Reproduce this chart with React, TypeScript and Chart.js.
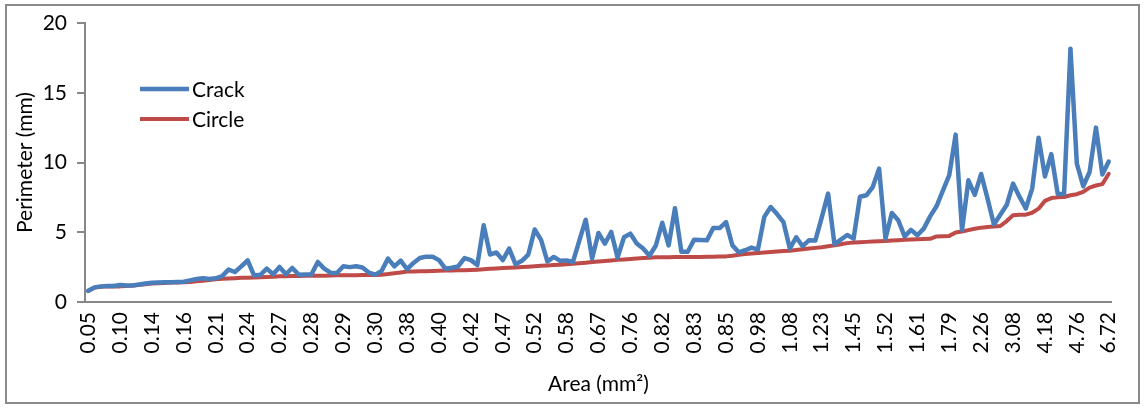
import { useEffect, useRef } from 'react';
import { Chart, registerables } from 'chart.js';

Chart.register(...registerables);

// Crack area in mm² (category axis); only every fifth one is labelled
const areas = [
  '0.05', '0.08', '0.09', '0.10', '0.10',
  '0.10', '0.11', '0.11', '0.12', '0.13',
  '0.14', '0.14', '0.15', '0.15', '0.16',
  '0.16', '0.16', '0.17', '0.19', '0.20',
  '0.21', '0.22', '0.23', '0.23', '0.24',
  '0.24', '0.25', '0.25', '0.26', '0.26',
  '0.27', '0.27', '0.27', '0.28', '0.28',
  '0.28', '0.28', '0.28', '0.29', '0.29',
  '0.29', '0.29', '0.29', '0.30', '0.30',
  '0.30', '0.31', '0.32', '0.34', '0.36',
  '0.38', '0.38', '0.38', '0.39', '0.39',
  '0.40', '0.40', '0.41', '0.41', '0.41',
  '0.42', '0.43', '0.44', '0.45', '0.46',
  '0.47', '0.48', '0.49', '0.50', '0.51',
  '0.52', '0.53', '0.55', '0.56', '0.57',
  '0.58', '0.60', '0.61', '0.63', '0.65',
  '0.67', '0.69', '0.71', '0.73', '0.74',
  '0.76', '0.77', '0.79', '0.80', '0.81',
  '0.82', '0.82', '0.82', '0.82', '0.83',
  '0.83', '0.83', '0.83', '0.84', '0.85',
  '0.85', '0.88', '0.91', '0.94', '0.96',
  '0.98', '1.00', '1.02', '1.04', '1.06',
  '1.08', '1.11', '1.14', '1.17', '1.20',
  '1.23', '1.27', '1.31', '1.36', '1.42',
  '1.45', '1.46', '1.48', '1.49', '1.51',
  '1.52', '1.54', '1.56', '1.58', '1.60',
  '1.61', '1.62', '1.63', '1.76', '1.77',
  '1.79', '1.97', '2.03', '2.11', '2.19',
  '2.26', '2.30', '2.34', '2.36', '2.68',
  '3.08', '3.11', '3.12', '3.26', '3.56',
  '4.18', '4.42', '4.48', '4.51', '4.66',
  '4.76', '4.97', '5.35', '5.55', '5.68',
  '6.72',
];

// Measured crack perimeter (mm)
const crack = [
  0.80, 1.05, 1.12, 1.15, 1.15,
  1.22, 1.18, 1.18, 1.25, 1.33,
  1.38, 1.40, 1.42, 1.42, 1.43,
  1.45, 1.55, 1.65, 1.70, 1.65,
  1.70, 1.85, 2.32, 2.15, 2.55,
  2.99, 1.90, 1.95, 2.39, 1.99,
  2.51, 1.99, 2.44, 1.96, 1.97,
  1.98, 2.87, 2.39, 2.10, 2.08,
  2.56, 2.50, 2.56, 2.47, 2.11,
  1.96, 2.22, 3.11, 2.55, 2.97,
  2.35, 2.80, 3.15, 3.25, 3.25,
  3.00, 2.39, 2.45, 2.55, 3.15,
  3.00, 2.65, 5.50, 3.40, 3.55,
  3.00, 3.83, 2.70, 2.95, 3.40,
  5.20, 4.45, 2.90, 3.23, 2.95,
  2.98, 2.87, 4.40, 5.90, 3.12,
  4.95, 4.19, 5.02, 3.18, 4.64,
  4.90, 4.19, 3.83, 3.32, 4.05,
  5.68, 4.06, 6.72, 3.60, 3.60,
  4.47, 4.45, 4.42, 5.30, 5.30,
  5.73, 4.06, 3.56, 3.71, 3.90,
  3.76, 6.10, 6.81, 6.30, 5.73,
  3.83, 4.64, 4.00, 4.42, 4.40,
  6.05, 7.77, 4.14, 4.47, 4.80,
  4.54, 7.55, 7.65, 8.24, 9.56,
  4.54, 6.38, 5.86, 4.71, 5.17,
  4.78, 5.26, 6.14, 6.86, 7.98,
  9.10, 12.00, 5.15, 8.72, 7.68,
  9.18, 7.41, 5.55, 6.25, 6.95,
  8.49, 7.55, 6.70, 8.13, 11.78,
  9.00, 10.60, 7.75, 7.75, 18.16,
  9.92, 8.30, 9.32, 12.50, 9.14,
  10.07,
];

// Perimeter of a circle with the same area (mm)
const circle = [
  0.79, 1.03, 1.09, 1.12, 1.12,
  1.12, 1.15, 1.18, 1.23, 1.28,
  1.33, 1.35, 1.37, 1.39, 1.40,
  1.42, 1.44, 1.48, 1.53, 1.58,
  1.63, 1.66, 1.69, 1.71, 1.74,
  1.74, 1.76, 1.78, 1.80, 1.81,
  1.84, 1.85, 1.86, 1.87, 1.88,
  1.88, 1.88, 1.89, 1.90, 1.91,
  1.91, 1.92, 1.92, 1.93, 1.94,
  1.94, 1.96, 2.00, 2.06, 2.12,
  2.19, 2.19, 2.20, 2.21, 2.22,
  2.24, 2.25, 2.26, 2.27, 2.28,
  2.30, 2.32, 2.35, 2.38, 2.40,
  2.43, 2.45, 2.48, 2.51, 2.53,
  2.56, 2.59, 2.62, 2.65, 2.67,
  2.70, 2.74, 2.78, 2.82, 2.86,
  2.90, 2.94, 2.98, 3.02, 3.05,
  3.09, 3.12, 3.15, 3.18, 3.20,
  3.21, 3.21, 3.22, 3.22, 3.23,
  3.23, 3.23, 3.24, 3.25, 3.26,
  3.27, 3.32, 3.39, 3.44, 3.47,
  3.51, 3.54, 3.58, 3.62, 3.65,
  3.68, 3.73, 3.78, 3.83, 3.88,
  3.93, 4.00, 4.06, 4.14, 4.22,
  4.27, 4.29, 4.31, 4.33, 4.35,
  4.37, 4.40, 4.43, 4.46, 4.48,
  4.50, 4.51, 4.53, 4.70, 4.72,
  4.74, 4.98, 5.05, 5.15, 5.25,
  5.33, 5.38, 5.42, 5.45, 5.80,
  6.22, 6.25, 6.26, 6.40, 6.69,
  7.25, 7.45, 7.50, 7.53, 7.65,
  7.73, 7.90, 8.20, 8.35, 8.45,
  9.19,
];

const seriesNames = ['Crack', 'Circle'];
const LABEL_EVERY = 5;

const FONT = 'Lato, "Open Sans", sans-serif';
const AXIS_GRAY = '#878787';

// Outer frame plus a legend drawn inside the plot, next to the y axis
const framePlugin = {
  id: 'frameAndLegend',
  afterDraw(chart: any) {
    const { ctx } = chart;
    ctx.save();
    ctx.strokeStyle = '#8a8a8a';
    ctx.lineWidth = 2;
    ctx.strokeRect(6, 5, 1133, 398);

    ctx.font = `21px ${FONT}`;
    ctx.textBaseline = 'middle';
    ctx.textAlign = 'left';
    chart.data.datasets.forEach((ds: any, i: number) => {
      const y = 89 + i * 30;
      ctx.strokeStyle = ds.borderColor;
      ctx.lineWidth = ds.borderWidth;
      ctx.lineCap = 'butt';
      ctx.beginPath();
      ctx.moveTo(140, y);
      ctx.lineTo(189, y);
      ctx.stroke();
      ctx.fillStyle = '#000';
      ctx.fillText(ds.label, 192, y + 1);
    });
    ctx.restore();
  },
};

export default function App() {
  const canvasRef = useRef<HTMLCanvasElement | null>(null);

  useEffect(() => {
    document.body.style.margin = '0';
    const canvas = canvasRef.current;
    if (!canvas) return;

    const chart = new Chart(canvas, {
      type: 'line',
      data: {
        labels: areas,
        datasets: [
          {
            label: seriesNames[0],
            data: crack,
            borderColor: '#4A7EBB',
            borderWidth: 4.5,
            pointRadius: 0,
            tension: 0,
            borderJoinStyle: 'round',
            borderCapStyle: 'round',
          },
          {
            label: seriesNames[1],
            data: circle,
            borderColor: '#BE4B48',
            borderWidth: 4,
            pointRadius: 0,
            tension: 0,
            borderJoinStyle: 'round',
            borderCapStyle: 'round',
          },
        ],
      },
      options: {
        responsive: false,
        animation: false,
        events: [],
        layout: { padding: { left: 8, right: 22, top: 23, bottom: 6 } },
        plugins: {
          legend: { display: false },
          tooltip: { enabled: false },
        },
        scales: {
          x: {
            type: 'category',
            offset: true,
            grid: { display: false, drawTicks: false },
            border: { display: true, color: AXIS_GRAY, width: 2 },
            ticks: {
              autoSkip: false,
              minRotation: 90,
              maxRotation: 90,
              padding: 10,
              color: '#000',
              font: { family: FONT, size: 21 },
              callback: (_v: any, i: number) => (i % LABEL_EVERY === 0 ? areas[i] : ''),
            },
            title: {
              display: true,
              text: 'Area (mm²)',
              color: '#000',
              font: { family: FONT, size: 21 },
              padding: { top: 0, bottom: 5 },
            },
            afterFit: (s: any) => {
              s.height = 100;
            },
          },
          y: {
            min: 0,
            max: 20,
            ticks: {
              stepSize: 5,
              padding: 10,
              color: '#000',
              font: { family: FONT, size: 21 },
            },
            grid: {
              drawOnChartArea: false,
              drawTicks: true,
              tickLength: 8,
              color: AXIS_GRAY,
              lineWidth: 2,
            },
            border: { display: true, color: AXIS_GRAY, width: 2 },
            title: {
              display: true,
              text: 'Perimeter (mm)',
              color: '#000',
              font: { family: FONT, size: 21 },
              padding: { top: 5, bottom: 0 },
            },
            afterFit: (s: any) => {
              s.width = 77;
            },
          },
        },
      },
      plugins: [framePlugin],
    });

    return () => chart.destroy();
  }, []);

  return (
    <div style={{ width: 1144, height: 408, background: '#fff' }}>
      <canvas ref={canvasRef} width={1144} height={408} />
    </div>
  );
}
